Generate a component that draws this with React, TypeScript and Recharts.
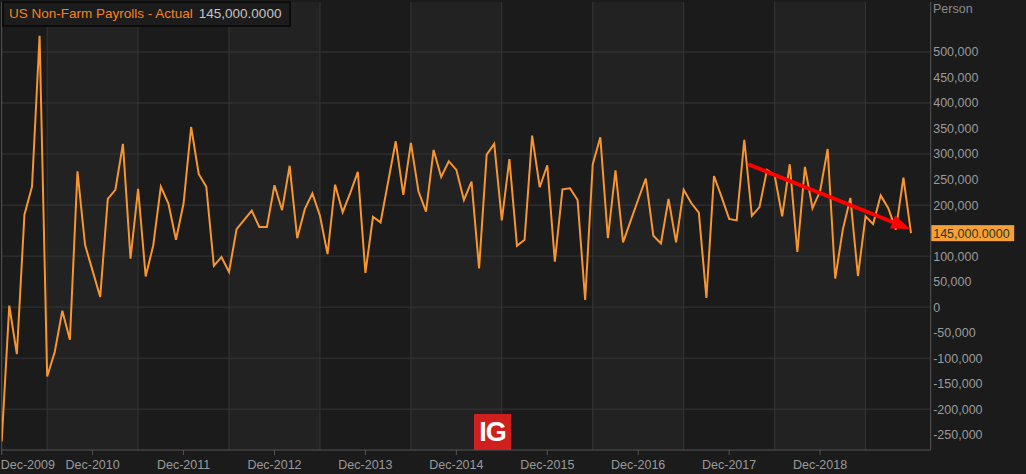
import {
  Line,
  LineChart,
  ReferenceArea,
  ReferenceLine,
  XAxis,
  YAxis,
} from "recharts";

// monthly prints, thousands of persons, Dec-2009 .. Dec-2019
const payrolls = [
  -263, 3, -92, 181, 236, 532, -136, -88, -7, -64, 266, 122,
  71, 20, 212, 230, 320, 95, 232, 60, 121, 236, 203, 132,
  203, 353, 261, 236, 81, 98, 69, 153, 171, 189, 157, 157,
  239, 190, 277, 135, 192, 223, 179, 104, 240, 186, 224, 265,
  67, 177, 166, 246, 325, 220, 322, 227, 187, 308, 255, 286,
  269, 210, 246, 76, 299, 320, 170, 290, 120, 132, 336, 235,
  278, 89, 231, 233, 210, 14, 280, 333, 135, 268, 127, 169,
  211, 252, 140, 125, 212, 127, 230, 204, 185, 18, 257, 216,
  173, 170, 328, 179, 196, 269, 259, 178, 280, 108, 275, 194,
  227, 310, 56, 152, 214, 61, 178, 163, 219, 194, 152, 254,
  145,
];

const yearLabels = [
  "Dec-2009", "Dec-2010", "Dec-2011", "Dec-2012", "Dec-2013",
  "Dec-2014", "Dec-2015", "Dec-2016", "Dec-2017", "Dec-2018",
];
const decTicks = yearLabels.map((_, k) => k * 12);
const yTicks = [
  -250000, -200000, -150000, -100000, -50000, 0, 50000, 100000,
  200000, 250000, 300000, 350000, 400000, 450000, 500000,
];
const gridValues = [-200000, -100000, 0, 100000, 200000, 300000, 400000, 500000];
const junLines = [6, 18, 30, 42, 54, 66, 78, 90, 102, 114];
const bands = [[6, 18], [30, 42], [54, 66], [78, 90], [102, 114]];

// hand-drawn trend arrow (month index, persons)
const arrowFrom = { i: 98.5, v: 280000 };
const arrowTo = { i: 119.9, v: 153000 };

const lastValue = 145000;

const data = payrolls.map((v, i) => ({ i, v: v * 1000 }));

const FONT = "'Liberation Sans', Arial, sans-serif";
const BG = "#1b1b1c";

const fmt = (n: number) => n.toLocaleString("en-US");

const XTick = (props: any) => {
  const { x, y, payload } = props;
  const first = payload.value === 0;
  return (
    <text
      x={first ? x - 1 : x}
      y={y}
      dy="0.71em"
      textAnchor={first ? "start" : "middle"}
      fill="#9a9a9a"
      fontSize={12.5}
      fontFamily={FONT}
    >
      {yearLabels[Math.round(payload.value / 12)]}
    </text>
  );
};

const Arrow = (props: any) => {
  const { x1, y1, x2, y2 } = props;
  const dx = x2 - x1;
  const dy = y2 - y1;
  const len = Math.sqrt(dx * dx + dy * dy);
  const ux = dx / len;
  const uy = dy / len;
  const hl = 19;
  const hw = 7;
  const bx = x2 - ux * hl;
  const by = y2 - uy * hl;
  return (
    <g>
      <line x1={x1} y1={y1} x2={bx} y2={by} stroke="#ff0000" strokeWidth={4} />
      <polygon
        points={`${x2},${y2} ${bx - uy * hw},${by + ux * hw} ${bx + uy * hw},${by - ux * hw}`}
        fill="#ff0000"
      />
    </g>
  );
};

const LastLabel = (props: any) => {
  const { viewBox } = props;
  const x = viewBox.x + viewBox.width + 0.5;
  const y = viewBox.y;
  return (
    <g>
      <rect x={x} y={y - 8} width={83} height={16} fill="#f7a035" />
      <text
        x={x + 2}
        y={y}
        dy="0.35em"
        fill="#1f3a1f"
        fontSize={12.5}
        fontFamily={FONT}
      >
        {lastValue.toLocaleString("en-US", { minimumFractionDigits: 4 })}
      </text>
    </g>
  );
};

export default function App() {
  return (
    <div
      style={{
        position: "absolute",
        left: 0,
        top: 0,
        width: 1026,
        height: 474,
        background: BG,
        fontFamily: FONT,
        overflow: "hidden",
      }}
    >
      <LineChart
        width={1026}
        height={474}
        data={data}
        margin={{ top: 2, right: 0, bottom: 0, left: 1.7 }}
      >
        <XAxis
          type="number"
          dataKey="i"
          domain={[0, 122.6]}
          ticks={decTicks}
          interval={0}
          allowDataOverflow
          height={24}
          stroke="#555"
          tickSize={5}
          tickMargin={5}
          tick={<XTick />}
        />
        <YAxis
          orientation="right"
          width={95.3}
          domain={[-280000, 598000]}
          ticks={yTicks}
          allowDataOverflow
          interval={0}
          stroke="#555"
          tickLine={false}
          tickSize={0}
          tickMargin={2.5}
          tick={{ fill: "#9a9a9a", fontSize: 12.5, fontFamily: FONT, textAnchor: "start" }}
          tickFormatter={fmt}
        />
        {bands.map(([a, b]) => (
          <ReferenceArea
            key={`b${a}`}
            x1={a}
            x2={b}
            y1={-280000}
            y2={598000}
            fill="#222223"
            fillOpacity={1}
            stroke="none"
          />
        ))}
        {gridValues.map((g) => (
          <ReferenceLine key={`h${g}`} y={g} stroke="#363637" strokeWidth={1} />
        ))}
        {junLines.map((m) => (
          <ReferenceLine key={`v${m}`} x={m} stroke="#363637" strokeWidth={1} />
        ))}
        <ReferenceLine x={0} stroke="#555" strokeWidth={1} />
        <Line
          type="linear"
          dataKey="v"
          stroke="#f7952f"
          strokeWidth={2}
          dot={false}
          isAnimationActive={false}
        />
        <ReferenceLine
          segment={[
            { x: arrowFrom.i, y: arrowFrom.v },
            { x: arrowTo.i, y: arrowTo.v },
          ]}
          shape={<Arrow />}
        />
        <ReferenceLine
          y={lastValue}
          stroke="none"
          ifOverflow="visible"
          label={<LastLabel />}
        />
      </LineChart>

      <div
        style={{
          position: "absolute",
          left: 2,
          top: 1,
          width: 280,
          height: 22,
          border: "2px solid #0c0c0c",
          background: "#1c1c1d",
          fontSize: 13.5,
          lineHeight: "22px",
          paddingLeft: 5,
          whiteSpace: "nowrap",
        }}
      >
        <span style={{ color: "#f5821f" }}>US Non-Farm Payrolls - Actual</span>
        <span style={{ color: "#c4c4c4", marginLeft: 6 }}>145,000.0000</span>
      </div>

      <div
        style={{
          position: "absolute",
          left: 933,
          top: 2,
          color: "#8a8a8a",
          fontSize: 12.5,
        }}
      >
        Person
      </div>

      <div
        style={{
          position: "absolute",
          left: 474,
          top: 414,
          width: 37,
          height: 36,
          background: "#cf1f1f",
          color: "#ffffff",
          fontSize: 27,
          fontWeight: "bold",
          lineHeight: "36px",
          textAlign: "center",
          letterSpacing: -1,
        }}
      >
        IG
      </div>
    </div>
  );
}
